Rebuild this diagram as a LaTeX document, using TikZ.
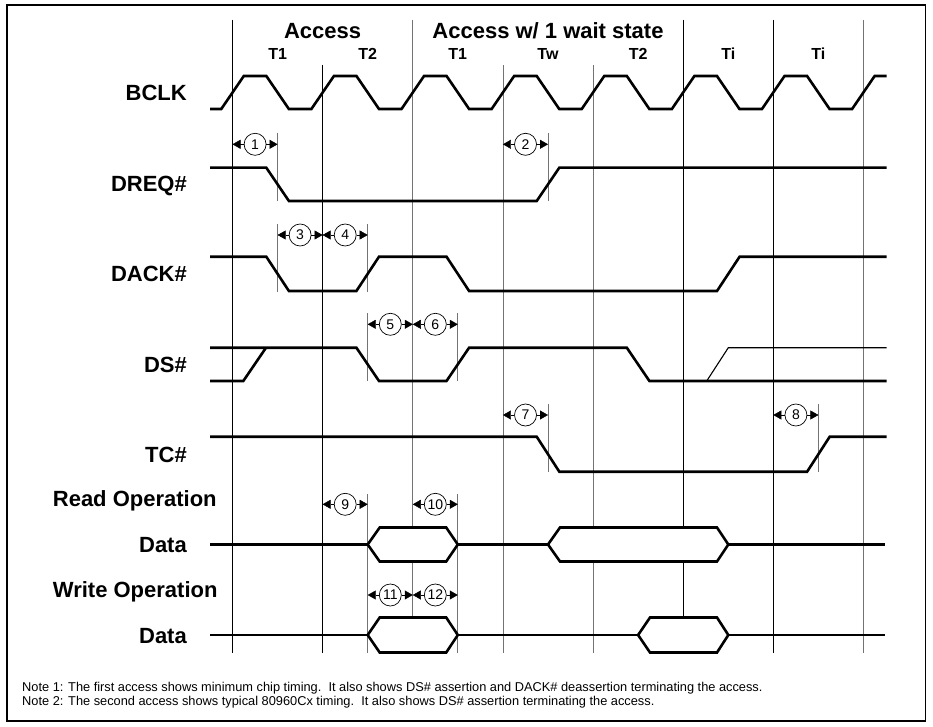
\documentclass[tikz,border=0pt]{standalone}
\usepackage{fontspec}
\setmainfont{Liberation Sans}
\usetikzlibrary{arrows.meta}

\begin{document}
\begin{tikzpicture}[
    x=1pt, y=-1pt,
    every node/.style={inner sep=0pt},
    >={Triangle[length=8pt,width=9pt]},
    sig/.style={line width=2.6pt},
    altsig/.style={line width=1.1pt},
    gridk/.style={line width=0.8pt, black},
    gridg/.style={line width=0.8pt, black!55},
    markline/.style={line width=0.8pt, black!55},
    siglabel/.style={anchor=base east, font=\bfseries\fontsize{22}{26}\selectfont},
    oplabel/.style={anchor=base west, font=\bfseries\fontsize{22}{26}\selectfont},
    phase/.style={anchor=base, font=\bfseries\fontsize{22}{26}\selectfont},
    tstate/.style={anchor=base, font=\bfseries\fontsize{16}{19}\selectfont},
    tmark/.style={circle, draw, line width=0.7pt, fill=white, minimum size=22pt,
        font=\fontsize{14}{14}\selectfont},
    note/.style={anchor=base west, font=\fontsize{12.8}{15}\selectfont}
]
\useasboundingbox (0,0) rectangle (933,727);

% ===== FRAME =====
\draw[line width=1.6pt] (7,5) rectangle (925.5,721);

% ===== CLOCK GRID =====
\coordinate (g1) at (232.5,0);
\coordinate (g2) at (322.6,0);
\coordinate (g3) at (412.8,0);
\coordinate (g4) at (502.9,0);
\coordinate (g5) at (593.1,0);
\coordinate (g6) at (683.2,0);
\coordinate (g7) at (773.3,0);
\coordinate (g8) at (863.5,0);
% mid points of the T-states
\coordinate (h1) at (277.6,0);
\coordinate (h2) at (367.7,0);
\coordinate (h3) at (457.8,0);
\coordinate (h4) at (548.0,0);
\coordinate (h7) at (818.4,0);

\draw[gridk] (232.5,20) -- (232.5,652.7);
\draw[gridk] (322.6,65) -- (322.6,652.7);
\draw[gridg] (412.8,20) -- (412.8,652.7);
\draw[gridg] (502.9,65) -- (502.9,652.7);
\draw[gridg] (593.1,65) -- (593.1,652.7);
\draw[gridk] (683.2,20) -- (683.2,652.7);
\draw[gridk] (773.3,20) -- (773.3,652.7);
\draw[gridg] (863.5,20) -- (863.5,652.7);

% --- Headers ---
\node[phase] (acc1) at (322.6,39) {Access};
\node[phase] (acc2) at (548.0,39) {Access w/ 1 wait state};
\node[tstate] (t1a) at (277.6,60) {T1};
\node[tstate] (t2a) at (367.7,60) {T2};
\node[tstate] (t1b) at (457.8,60) {T1};
\node[tstate] (twb) at (548.0,60) {Tw};
\node[tstate] (t2b) at (638.1,60) {T2};
\node[tstate] (tia) at (728.3,60) {Ti};
\node[tstate] (tib) at (818.4,60) {Ti};

% ===== MARKER LINES =====
\draw[markline] (277.6,133) -- (277.6,201);
\draw[markline] (277.6,224) -- (277.6,291.7);
\draw[markline] (548.0,133) -- (548.0,201);
\draw[markline] (548.0,404) -- (548.0,471.7);
\draw[markline] (367.7,224) -- (367.7,291.7);
\draw[markline] (367.7,313) -- (367.7,381);
\draw[markline] (367.7,494) -- (367.7,652.7);
\draw[markline] (457.8,313) -- (457.8,381);
\draw[markline] (457.8,494) -- (457.8,652.7);
\draw[markline] (818.4,404) -- (818.4,471.7);

% ===== SIGNALS =====
% --- BCLK ---
\node[siglabel] (bclk) at (187,101) {BCLK};
\draw[sig] (210,109) -- ++(11.27,0)
    -- ++(22.53,-33) -- ++(22.53,0) -- ++(22.53,33) -- ++(22.53,0)
    -- ++(22.53,-33) -- ++(22.53,0) -- ++(22.53,33) -- ++(22.53,0)
    -- ++(22.53,-33) -- ++(22.53,0) -- ++(22.53,33) -- ++(22.53,0)
    -- ++(22.53,-33) -- ++(22.53,0) -- ++(22.53,33) -- ++(22.53,0)
    -- ++(22.53,-33) -- ++(22.53,0) -- ++(22.53,33) -- ++(22.53,0)
    -- ++(22.53,-33) -- ++(22.53,0) -- ++(22.53,33) -- ++(22.53,0)
    -- ++(22.53,-33) -- ++(22.53,0) -- ++(22.53,33) -- ++(22.53,0)
    -- ++(22.53,-33) -- (886.7,76);

% --- DREQ# ---
\node[siglabel] (dreq) at (187,191.7) {DREQ\#};
\draw[sig] (210,167.7) -- (266.3,167.7) -- (288.9,201) -- (536.7,201)
    -- (559.3,167.7) -- (886.7,167.7);

% --- DACK# ---
\node[siglabel] (dack) at (187,281) {DACK\#};
\draw[sig] (210,256.7) -- (266.3,256.7) -- (288.9,291) -- (356.4,291)
    -- (379,256.7) -- (446.5,256.7) -- (469.1,291) -- (717,291)
    -- (739.6,256.7) -- (886.7,256.7);

% --- DS# ---
\node[siglabel] (ds) at (187,372.3) {DS\#};
\draw[sig] (210,347.7) -- (356.4,347.7) -- (379,381) -- (446.5,381)
    -- (469.1,347.7) -- (626.8,347.7) -- (649.4,381) -- (886.7,381);
\draw[sig] (210,381) -- (243.3,381) -- (266,347.7);
\draw[altsig] (706.7,381) -- (728.3,347.7) -- (886.7,347.7);

% --- TC# ---
\node[siglabel] (tc) at (187,462) {TC\#};
\draw[sig] (210,436.7) -- (536.7,436.7) -- (559.3,471.7) -- (807.1,471.7)
    -- (829.7,436.7) -- (886.7,436.7);

% --- Read data ---
\node[oplabel] (rdop) at (52.7,506.7) {Read Operation};
\node[siglabel] (rdata) at (187,552.5) {Data};
\draw[sig] (210,544.5) -- (367.7,544.5);
\draw[sig] (457.8,544.5) -- (548.0,544.5);
\draw[sig] (728.3,544.5) -- (885,544.5);
\draw[sig, fill=white] (367.7,544.5) -- (379.7,527.5) -- (446.2,527.5)
    -- (457.8,544.5) -- (446.2,561.5) -- (379.7,561.5) -- cycle;
\draw[sig, fill=white] (548.0,544.5) -- (560,527.5) -- (717,527.5)
    -- (728.3,544.5) -- (717,561.5) -- (560,561.5) -- cycle;

% --- Write data ---
\node[oplabel] (wrop) at (52.7,597) {Write Operation};
\node[siglabel] (wdata) at (187,643.3) {Data};
\draw[sig] (210,635) -- (367.7,635);
\draw[sig] (457.8,635) -- (638.1,635);
\draw[sig] (728.3,635) -- (885,635);
\draw[sig, fill=white] (367.7,635) -- (379.7,617.5) -- (446.2,617.5)
    -- (457.8,635) -- (446.2,652.5) -- (379.7,652.5) -- cycle;
\draw[sig, fill=white] (638.1,635) -- (650,617.5) -- (717,617.5)
    -- (728.3,635) -- (717,652.5) -- (650,652.5) -- cycle;

% ===== TIMING MARKERS =====
\node[tmark] (m1) at (255.1,144.3) {1};
\draw[->] (m1) -- (m1 -| g1);
\draw[->] (m1) -- (m1 -| h1);
\node[tmark] (m2) at (525.5,144.3) {2};
\draw[->] (m2) -- (m2 -| g4);
\draw[->] (m2) -- (m2 -| h4);
\node[tmark] (m3) at (300.1,235) {3};
\draw[->] (m3) -- (m3 -| h1);
\draw[->] (m3) -- (m3 -| g2);
\node[tmark] (m4) at (345.2,235) {4};
\draw[->] (m4) -- (m4 -| g2);
\draw[->] (m4) -- (m4 -| h2);
\node[tmark] (m5) at (390.3,324.3) {5};
\draw[->] (m5) -- (m5 -| h2);
\draw[->] (m5) -- (m5 -| g3);
\node[tmark] (m6) at (435.3,324.3) {6};
\draw[->] (m6) -- (m6 -| g3);
\draw[->] (m6) -- (m6 -| h3);
\node[tmark] (m7) at (525.5,415) {7};
\draw[->] (m7) -- (m7 -| g4);
\draw[->] (m7) -- (m7 -| h4);
\node[tmark] (m8) at (795.9,415) {8};
\draw[->] (m8) -- (m8 -| g7);
\draw[->] (m8) -- (m8 -| h7);
\node[tmark] (m9) at (345.2,504.3) {9};
\draw[->] (m9) -- (m9 -| g2);
\draw[->] (m9) -- (m9 -| h2);
\node[tmark] (m10) at (435.3,504.3) {10};
\draw[->] (m10) -- (m10 -| g3);
\draw[->] (m10) -- (m10 -| h3);
\node[tmark] (m11) at (390.3,595) {11};
\draw[->] (m11) -- (m11 -| h2);
\draw[->] (m11) -- (m11 -| g3);
\node[tmark] (m12) at (435.3,595) {12};
\draw[->] (m12) -- (m12 -| g3);
\draw[->] (m12) -- (m12 -| h3);

% ===== NOTES =====
\node[note] (note1) at (22,691) {Note 1: The first access shows minimum chip timing.\ \ It also shows DS\# assertion and DACK\# deassertion terminating the access.};
\node[note] (note2) at (22,705) {Note 2: The second access shows typical 80960Cx timing.\ \ It also shows DS\# assertion terminating the access.};

\end{tikzpicture}
\end{document}
